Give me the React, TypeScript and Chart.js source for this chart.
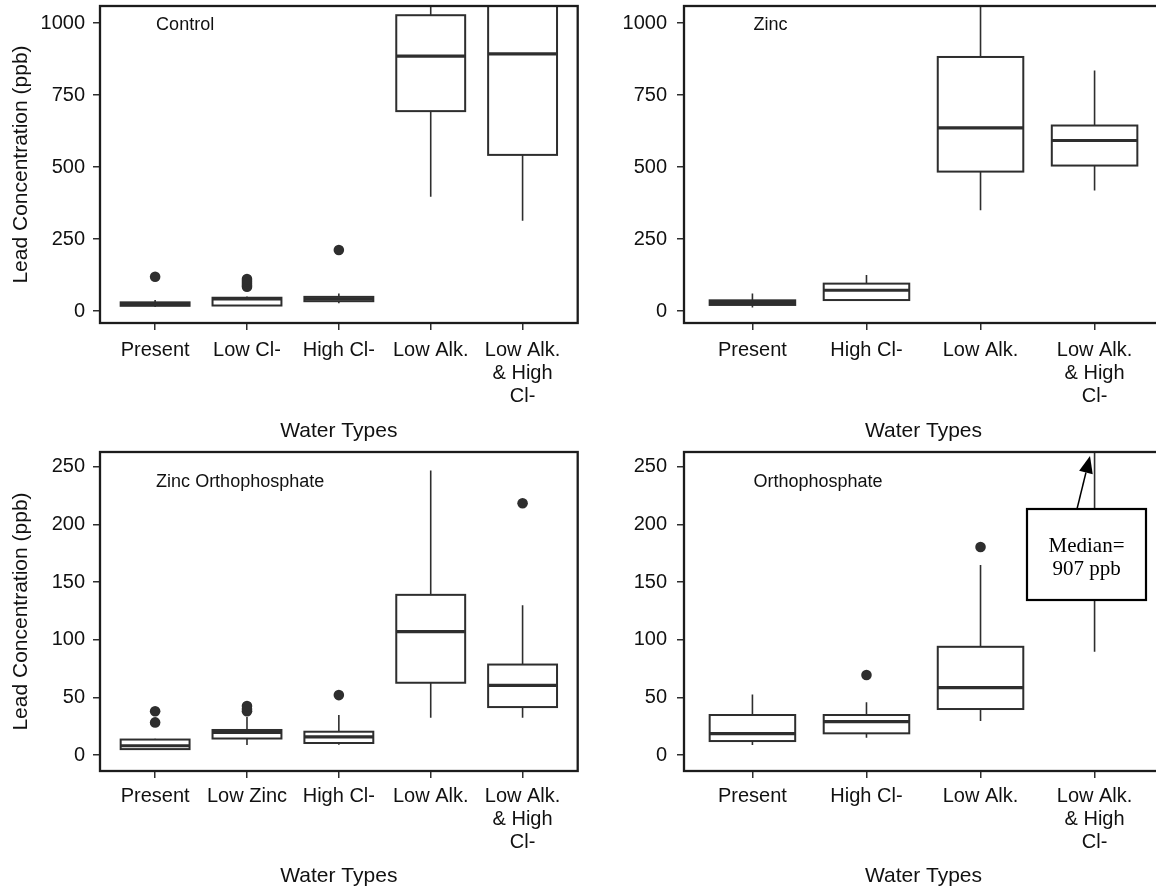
import React, { useEffect, useRef } from 'react';
import { Chart, registerables } from 'chart.js';

Chart.register(...registerables);

// ---- Category labels (multi-line labels are arrays) ----
const lowAlkHighCl = ['Low Alk.', '& High', 'Cl-'];
const controlCategories = ['Present', 'Low Cl-', 'High Cl-', 'Low Alk.', lowAlkHighCl];
const zincCategories = ['Present', 'High Cl-', 'Low Alk.', lowAlkHighCl];
const zincOrthoCategories = ['Present', 'Low Zinc', 'High Cl-', 'Low Alk.', lowAlkHighCl];
const orthoCategories = ['Present', 'High Cl-', 'Low Alk.', lowAlkHighCl];

// ---- Y tick values ----
const upperYTicks = [0, 250, 500, 750, 1000];
const lowerYTicks = [0, 50, 100, 150, 200, 250];

// ---- Control (ppb) ----
const controlLower = [14, 17, 27, 397, 313];
const controlQ1 = [18, 19, 34, 694, 542];
const controlMedian = [24, 42, 42, 885, 893];
const controlQ3 = [30, 46, 49, 1027, 1150];
const controlUpper = [38, 50, 61, 1180, 1320];
const controlOutliers = [[119], [84, 90, 97, 104, 111], [212], [], []];

// ---- Zinc (ppb) ----
const zincLower = [12, 36, 350, 418];
const zincQ1 = [21, 38, 484, 505];
const zincMedian = [29, 72, 636, 592];
const zincQ3 = [37, 95, 882, 644];
const zincUpper = [61, 125, 1150, 835];
const zincOutliers = [[], [], [], []];

// ---- Zinc Orthophosphate (ppb) ----
const zincOrthoLower = [4.5, 8.7, 8.9, 32.4, 32.4];
const zincOrthoQ1 = [5.1, 14.3, 10.4, 62.7, 41.6];
const zincOrthoMedian = [8, 19.5, 15.8, 107, 60.5];
const zincOrthoQ3 = [13.4, 21.7, 20.2, 139, 78.5];
const zincOrthoUpper = [14, 33, 34.8, 247, 130];
const zincOrthoOutliers = [[28.3, 38], [38, 40, 42.5], [52], [], [218.5]];

// ---- Orthophosphate (ppb) ----
const orthoLower = [8.7, 15, 29.5, 89.6];
const orthoQ1 = [12.1, 18.8, 39.9, 420];
const orthoMedian = [18.5, 28.9, 58.4, 907];
const orthoQ3 = [34.7, 34.7, 93.9, 1240];
const orthoUpper = [52.6, 45.7, 165, 1650];
const orthoOutliers = [[], [69.4], [180.6], []];

const INK = '#2e2e2e';
const TEXT = '#111111';
const SANS = '"Liberation Sans", Arial, Helvetica, sans-serif';
const SERIF = '"Liberation Serif", "Times New Roman", serif';
const BOX_HALF = 0.375;

type Stats = { lower: number[]; q1: number[]; median: number[]; q3: number[]; upper: number[] };

function makeBoxPlugin(stats: Stats) {
  return {
    id: 'boxes',
    beforeDatasetsDraw(chart: any) {
      const { ctx, chartArea: a, scales } = chart;
      const x = scales.x;
      const y = scales.y;
      ctx.save();
      ctx.beginPath();
      ctx.rect(a.left, a.top, a.right - a.left, a.bottom - a.top);
      ctx.clip();
      ctx.strokeStyle = INK;
      stats.q1.forEach((q1: number, i: number) => {
        const v = i + 1;
        const cx = x.getPixelForValue(v);
        const l = x.getPixelForValue(v - BOX_HALF);
        const r = x.getPixelForValue(v + BOX_HALF);
        const yLo = y.getPixelForValue(stats.lower[i]);
        const yQ1 = y.getPixelForValue(q1);
        const yMed = y.getPixelForValue(stats.median[i]);
        const yQ3 = y.getPixelForValue(stats.q3[i]);
        const yHi = y.getPixelForValue(stats.upper[i]);
        // whiskers
        ctx.lineWidth = 1.6;
        ctx.beginPath();
        ctx.moveTo(cx, yHi);
        ctx.lineTo(cx, yQ3);
        ctx.moveTo(cx, yQ1);
        ctx.lineTo(cx, yLo);
        ctx.stroke();
        // box
        ctx.fillStyle = '#ffffff';
        ctx.fillRect(l, yQ3, r - l, yQ1 - yQ3);
        ctx.lineWidth = 2;
        ctx.strokeRect(l, yQ3, r - l, yQ1 - yQ3);
        // median
        ctx.lineWidth = 3.2;
        ctx.beginPath();
        ctx.moveTo(l, yMed);
        ctx.lineTo(r, yMed);
        ctx.stroke();
      });
      ctx.restore();
    },
  };
}

function drawMedianNote(ctx: CanvasRenderingContext2D, a: any) {
  const bx = a.left + 343;
  const by = a.top + 57;
  const bw = 119;
  const bh = 91;
  ctx.fillStyle = '#ffffff';
  ctx.fillRect(bx, by, bw, bh);
  ctx.strokeStyle = '#000000';
  ctx.lineWidth = 2.2;
  ctx.strokeRect(bx, by, bw, bh);
  ctx.fillStyle = '#000000';
  ctx.font = `21px ${SERIF}`;
  ctx.textAlign = 'center';
  ctx.textBaseline = 'alphabetic';
  ctx.fillText('Median=', bx + bw / 2, a.top + 100);
  ctx.fillText('907 ppb', bx + bw / 2, a.top + 123);
  // arrow
  const sx = a.left + 393;
  const sy = a.top + 57;
  const tx = a.left + 406;
  const ty = a.top + 4;
  const ang = Math.atan2(ty - sy, tx - sx);
  const len = 17;
  const hw = 7;
  const baseX = tx - len * Math.cos(ang);
  const baseY = ty - len * Math.sin(ang);
  ctx.strokeStyle = '#000000';
  ctx.lineWidth = 1.5;
  ctx.beginPath();
  ctx.moveTo(sx, sy);
  ctx.lineTo(baseX, baseY);
  ctx.stroke();
  ctx.beginPath();
  ctx.moveTo(tx, ty);
  ctx.lineTo(baseX + hw * Math.sin(ang), baseY - hw * Math.cos(ang));
  ctx.lineTo(baseX - hw * Math.sin(ang), baseY + hw * Math.cos(ang));
  ctx.closePath();
  ctx.fill();
}

function makeFramePlugin(label: string, labelY: number, withNote: boolean) {
  return {
    id: 'frame',
    afterDatasetsDraw(chart: any) {
      const { ctx, chartArea: a, scales } = chart;
      ctx.save();
      ctx.font = `18px ${SANS}`;
      ctx.fillStyle = TEXT;
      ctx.textAlign = 'left';
      ctx.textBaseline = 'middle';
      ctx.fillText(label, scales.x.getPixelForValue(1) + 1, scales.y.getPixelForValue(labelY));
      if (withNote) drawMedianNote(ctx, a);
      ctx.strokeStyle = '#1c1c1c';
      ctx.lineWidth = 2.3;
      ctx.strokeRect(a.left, a.top, a.right - a.left, a.bottom - a.top);
      ctx.restore();
    },
  };
}

type PanelProps = {
  left: number;
  top: number;
  width: number;
  height: number;
  area: { left: number; top: number; right: number; bottom: number };
  categories: (string | string[])[];
  stats: Stats;
  outliers: number[][];
  yMin: number;
  yMax: number;
  yTicks: number[];
  label: string;
  labelY: number;
  showYTitle: boolean;
  yTickPad: number;
  xTickPad: number;
  xTitlePad: number;
  withNote?: boolean;
};

function BoxPanel(p: PanelProps) {
  const ref = useRef<HTMLCanvasElement>(null);

  useEffect(() => {
    if (!ref.current) return;
    const points: { x: number; y: number }[] = [];
    p.outliers.forEach((vals, i) => vals.forEach((v) => points.push({ x: i + 1, y: v })));
    const tickFont = { family: SANS, size: 20, lineHeight: 1.15 };
    const titleFont = { family: SANS, size: 21, lineHeight: 1.2 };
    const chart = new Chart(ref.current, {
      type: 'scatter',
      data: {
        datasets: [
          {
            data: points,
            pointRadius: 5.3,
            pointHoverRadius: 5.3,
            pointBackgroundColor: INK,
            pointBorderWidth: 0,
          },
        ],
      },
      options: {
        responsive: false,
        animation: false,
        events: [],
        layout: { padding: { left: 0, top: p.area.top, right: p.width - p.area.right, bottom: 0 } },
        plugins: { legend: { display: false }, tooltip: { enabled: false } },
        scales: {
          x: {
            type: 'linear',
            bounds: 'data',
            min: 0.4,
            max: p.categories.length + 0.6,
            afterBuildTicks: (s: any) => {
              s.ticks = p.categories.map((_, i) => ({ value: i + 1 }));
            },
            afterFit: (s: any) => {
              s.height = p.height - p.area.bottom;
              s.paddingLeft = 0;
              s.paddingRight = 0;
            },
            ticks: {
              autoSkip: false,
              maxRotation: 0,
              minRotation: 0,
              padding: p.xTickPad,
              color: TEXT,
              font: tickFont,
              callback: (v: any) => p.categories[Math.round(Number(v)) - 1] as any,
            },
            grid: { drawOnChartArea: false, drawTicks: true, tickLength: 7, color: INK, lineWidth: 1.5 },
            border: { display: false },
            title: {
              display: true,
              text: 'Water Types',
              color: TEXT,
              font: titleFont,
              padding: { top: 0, bottom: p.xTitlePad },
            },
          },
          y: {
            type: 'linear',
            bounds: 'data',
            min: p.yMin,
            max: p.yMax,
            afterBuildTicks: (s: any) => {
              s.ticks = p.yTicks.map((v) => ({ value: v }));
            },
            afterFit: (s: any) => {
              s.width = p.area.left;
              s.paddingTop = 0;
              s.paddingBottom = 0;
            },
            ticks: {
              padding: p.yTickPad,
              color: TEXT,
              font: tickFont,
              callback: (v: any) => String(v),
            },
            grid: { drawOnChartArea: false, drawTicks: true, tickLength: 7, color: INK, lineWidth: 1.5 },
            border: { display: false },
            title: {
              display: p.showYTitle,
              text: 'Lead Concentration (ppb)',
              color: TEXT,
              font: { family: SANS, size: 21, lineHeight: 1.2 },
              padding: { top: 9, bottom: 0 },
            },
          },
        },
      },
      plugins: [makeBoxPlugin(p.stats), makeFramePlugin(p.label, p.labelY, !!p.withNote)],
    } as any);
    return () => chart.destroy();
  }, []);

  return (
    <canvas
      ref={ref}
      width={p.width}
      height={p.height}
      style={{ position: 'absolute', left: p.left, top: p.top, width: p.width, height: p.height }}
    />
  );
}

export default function App() {
  return (
    <div
      style={{
        position: 'absolute',
        left: 0,
        top: 0,
        width: 1156,
        height: 888,
        overflow: 'hidden',
        background: '#ffffff',
      }}
    >
      <BoxPanel
        left={0}
        top={0}
        width={583}
        height={445}
        area={{ left: 100, top: 6, right: 580, bottom: 323 }}
        categories={controlCategories}
        stats={{ lower: controlLower, q1: controlQ1, median: controlMedian, q3: controlQ3, upper: controlUpper }}
        outliers={controlOutliers}
        yMin={-41.7}
        yMax={1059}
        yTicks={upperYTicks}
        label="Control"
        labelY={993}
        showYTitle={true}
        yTickPad={8}
        xTickPad={9}
        xTitlePad={1}
      />
      <BoxPanel
        left={580}
        top={0}
        width={600}
        height={445}
        area={{ left: 104, top: 6, right: 583, bottom: 323 }}
        categories={zincCategories}
        stats={{ lower: zincLower, q1: zincQ1, median: zincMedian, q3: zincQ3, upper: zincUpper }}
        outliers={zincOutliers}
        yMin={-41.7}
        yMax={1059}
        yTicks={upperYTicks}
        label="Zinc"
        labelY={993}
        showYTitle={false}
        yTickPad={10}
        xTickPad={9}
        xTitlePad={1}
      />
      <BoxPanel
        left={0}
        top={445}
        width={583}
        height={444}
        area={{ left: 100, top: 7, right: 580, bottom: 326 }}
        categories={zincOrthoCategories}
        stats={{ lower: zincOrthoLower, q1: zincOrthoQ1, median: zincOrthoMedian, q3: zincOrthoQ3, upper: zincOrthoUpper }}
        outliers={zincOrthoOutliers}
        yMin={-13.9}
        yMax={263}
        yTicks={lowerYTicks}
        label="Zinc Orthophosphate"
        labelY={237}
        showYTitle={true}
        yTickPad={8}
        xTickPad={7}
        xTitlePad={0}
      />
      <BoxPanel
        left={580}
        top={445}
        width={600}
        height={444}
        area={{ left: 104, top: 7, right: 583, bottom: 326 }}
        categories={orthoCategories}
        stats={{ lower: orthoLower, q1: orthoQ1, median: orthoMedian, q3: orthoQ3, upper: orthoUpper }}
        outliers={orthoOutliers}
        yMin={-13.9}
        yMax={263}
        yTicks={lowerYTicks}
        label="Orthophosphate"
        labelY={237}
        showYTitle={false}
        yTickPad={10}
        xTickPad={7}
        xTitlePad={0}
        withNote={true}
      />
    </div>
  );
}
